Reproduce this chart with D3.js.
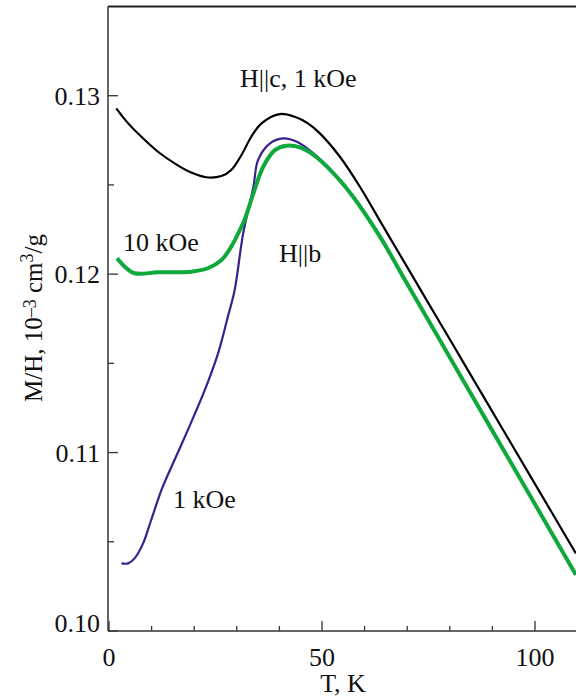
<!DOCTYPE html>
<html>
<head>
<meta charset="utf-8">
<script src="https://cdn.jsdelivr.net/npm/d3@7"></script>
<style>
  html, body { margin: 0; padding: 0; background: #fff; }
  svg { display: block; }
  text { font-family: "Liberation Serif", "Times New Roman", serif; fill: #111; }
</style>
</head>
<body>
<svg id="chart" width="576" height="700"></svg>
<script>
// Temperature (K) and M/H (10^-3 cm^3/g) readings
const tempC1 = [1.7, 4.5, 7.6, 11.5, 15.4, 19.3, 22.8, 26.4, 28.7, 31.1, 33.4, 35.8, 40.1, 43.6, 46.7, 49.5, 54.2, 58.9, 64.4, 70.7, 76.1, 81.2, 84.0, 91.8, 99.6, 109.6];
const magC1  = [0.12929, 0.12845, 0.12770, 0.12686, 0.12621, 0.12569, 0.12543, 0.12550, 0.12584, 0.12668, 0.12770, 0.12845, 0.12897, 0.12882, 0.12845, 0.12789, 0.12658, 0.12490, 0.12266, 0.12011, 0.11792, 0.11586, 0.11472, 0.11156, 0.10840, 0.10435];

const tempB1 = [2.9, 4.5, 6.0, 8.0, 9.9, 12.3, 13.8, 18.5, 22.5, 25.6, 27.9, 29.5, 31.5, 33.9, 35.0, 37.8, 40.9, 44.1, 48.0, 52.7, 57.3, 63.6, 69.9, 76.5, 84.0, 91.8, 99.6, 109.6];
const magB1  = [0.10379, 0.10379, 0.10407, 0.10491, 0.10622, 0.10790, 0.10874, 0.11126, 0.11351, 0.11556, 0.11761, 0.11911, 0.12229, 0.12490, 0.12640, 0.12733, 0.12761, 0.12742, 0.12677, 0.12568, 0.12436, 0.12210, 0.11950, 0.11678, 0.11369, 0.11048, 0.10727, 0.10315];

const tempB10 = [1.9, 3.7, 6.0, 11.5, 19.3, 23.2, 26.4, 28.7, 30.7, 31.8, 33.9, 36.2, 39.0, 41.7, 44.8, 48.0, 52.7, 57.3, 63.6, 69.9, 76.5, 84.0, 91.8, 99.6, 109.6];
const magB10  = [0.12089, 0.12042, 0.12005, 0.12010, 0.12014, 0.12033, 0.12079, 0.12154, 0.12247, 0.12303, 0.12453, 0.12602, 0.12696, 0.12720, 0.12710, 0.12668, 0.12565, 0.12434, 0.12210, 0.11950, 0.11678, 0.11369, 0.11048, 0.10727, 0.10315];

const xMajor = [0, 50, 100];
const xMinor = [10, 20, 30, 40, 60, 70, 80, 90];
const yMajor = [0.10, 0.11, 0.12, 0.13];
const yMinor = [0.105, 0.115, 0.125];

const svg = d3.select("#chart");
const x = d3.scaleLinear().domain([0, 110]).range([109, 109 + 4.26 * 110]);
const y = d3.scaleLinear().domain([0.10, 0.135]).range([631, 631 - 17843 * 0.035]);

const frameLeft = 108, frameBottom = 631, frameTop = 6.5;
const fontSize = 26;

// clip region for the curves
svg.append("defs").append("clipPath").attr("id", "plotClip")
  .append("rect").attr("x", frameLeft).attr("y", frameTop)
  .attr("width", 576 - frameLeft).attr("height", frameBottom - frameTop);

// frame lines
svg.append("line").attr("x1", frameLeft).attr("x2", 576).attr("y1", frameTop).attr("y2", frameTop)
  .attr("stroke", "#222").attr("stroke-width", 2);
svg.append("line").attr("x1", frameLeft).attr("x2", frameLeft).attr("y1", frameTop).attr("y2", frameBottom)
  .attr("stroke", "#333").attr("stroke-width", 1.5);
svg.append("line").attr("x1", frameLeft).attr("x2", 576).attr("y1", frameBottom).attr("y2", frameBottom)
  .attr("stroke", "#333").attr("stroke-width", 1.5);

// x ticks (inward)
const xAxisG = svg.append("g");
xAxisG.selectAll(".xmaj").data(xMajor).join("line")
  .attr("x1", d => x(d)).attr("x2", d => x(d)).attr("y1", frameBottom).attr("y2", frameBottom - 10)
  .attr("stroke", "#333").attr("stroke-width", 1.3);
xAxisG.selectAll(".xmin").data(xMinor).join("line")
  .attr("x1", d => x(d)).attr("x2", d => x(d)).attr("y1", frameBottom).attr("y2", frameBottom - 5)
  .attr("stroke", "#333").attr("stroke-width", 1.3);
xAxisG.selectAll(".xlab").data(xMajor).join("text")
  .attr("x", d => x(d)).attr("y", 666).attr("text-anchor", "middle")
  .attr("font-size", fontSize).text(d => d);

// y ticks (inward)
const yAxisG = svg.append("g");
yAxisG.selectAll(".ymaj").data(yMajor).join("line")
  .attr("x1", frameLeft).attr("x2", frameLeft + 10).attr("y1", d => y(d)).attr("y2", d => y(d))
  .attr("stroke", "#333").attr("stroke-width", 1.3);
yAxisG.selectAll(".ymin").data(yMinor).join("line")
  .attr("x1", frameLeft).attr("x2", frameLeft + 6).attr("y1", d => y(d)).attr("y2", d => y(d))
  .attr("stroke", "#333").attr("stroke-width", 1.3);
yAxisG.selectAll(".ylab").data(yMajor).join("text")
  .attr("x", 100).attr("y", d => y(d) + 9 - (d === 0.10 ? 8 : 0)).attr("text-anchor", "end")
  .attr("font-size", fontSize).text(d => d3.format(".2f")(d));

// axis titles
svg.append("text").attr("x", 343).attr("y", 692).attr("text-anchor", "middle")
  .attr("font-size", fontSize).text("T, K");

const yTitle = svg.append("text")
  .attr("transform", "translate(42,318) rotate(-90)")
  .attr("text-anchor", "middle").attr("font-size", 25);
yTitle.append("tspan").text("M/H, 10");
yTitle.append("tspan").attr("font-size", 18).attr("dy", -6).text("–3");
yTitle.append("tspan").attr("dy", 6).text(" cm");
yTitle.append("tspan").attr("font-size", 18).attr("dy", -9).text("3");
yTitle.append("tspan").attr("dy", 9).text("/g");

// curves
const line = d3.line().x(d => x(d[0])).y(d => y(d[1])).curve(d3.curveCatmullRom.alpha(0.5));
const plot = svg.append("g").attr("clip-path", "url(#plotClip)");

const series = [
  { t: tempC1, m: magC1, color: "#000000", width: 2.2 },
  { t: tempB1, m: magB1, color: "#3a1f8f", width: 2.2 },
  { t: tempB10, m: magB10, color: "#0ea83b", width: 4 }
];
series.forEach(s => {
  plot.append("path")
    .datum(d3.zip(s.t, s.m))
    .attr("fill", "none").attr("stroke", s.color).attr("stroke-width", s.width)
    .attr("stroke-linejoin", "round").attr("stroke-linecap", "butt")
    .attr("d", line);
});

// curve annotations
svg.append("text").attr("x", 240).attr("y", 87).attr("font-size", fontSize).text("H||c, 1 kOe");
svg.append("text").attr("x", 123).attr("y", 251).attr("font-size", fontSize).text("10 kOe");
svg.append("text").attr("x", 279).attr("y", 262).attr("font-size", fontSize).text("H||b");
svg.append("text").attr("x", 173).attr("y", 508).attr("font-size", fontSize).text("1 kOe");
</script>
</body>
</html>
